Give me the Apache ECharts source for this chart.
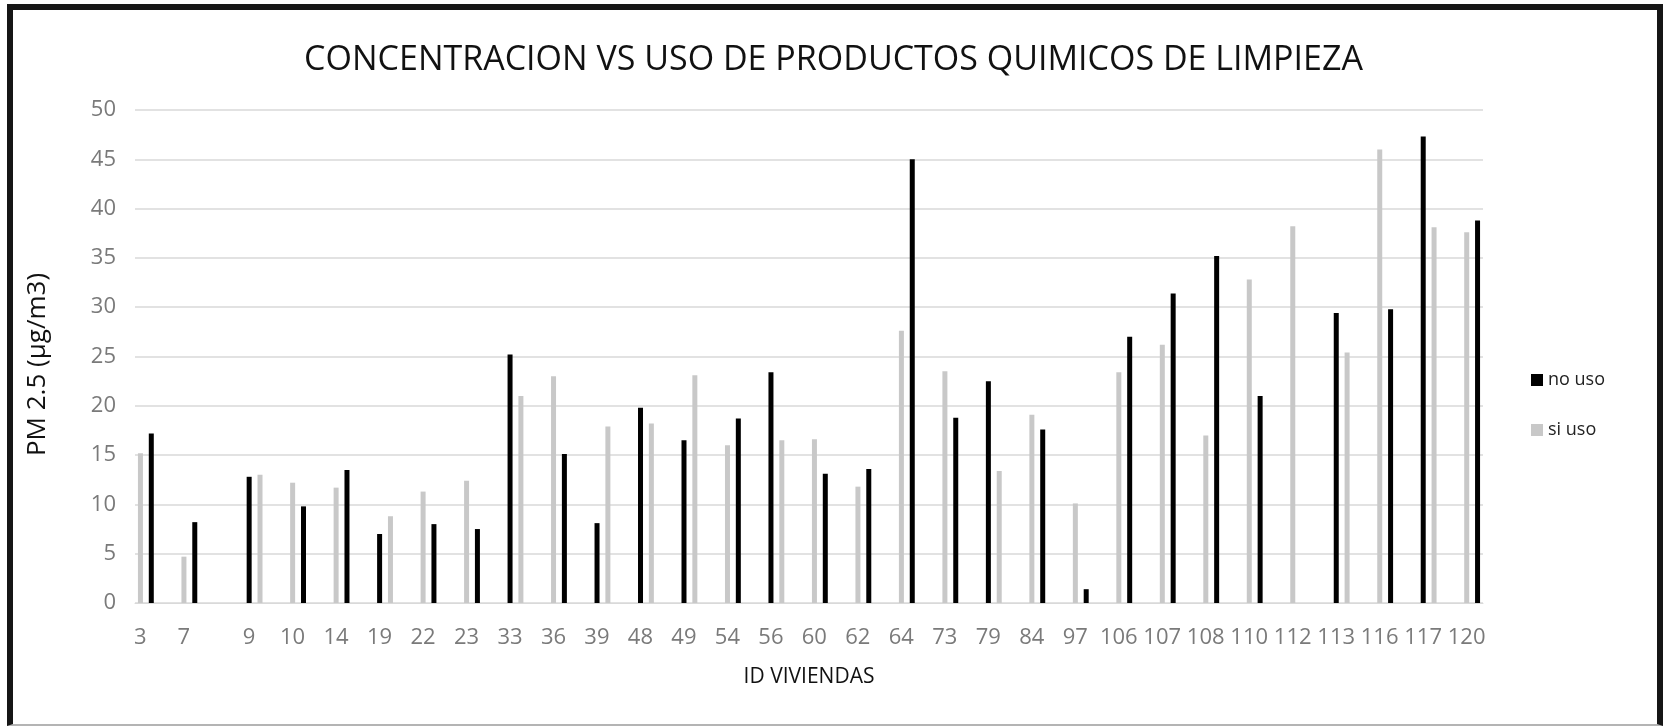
<!DOCTYPE html>
<html>
<head>
<meta charset="utf-8">
<title>Concentracion vs uso de productos quimicos</title>
<script src="https://cdn.jsdelivr.net/npm/echarts@6/dist/echarts.min.js"></script>
<style>
  html, body { margin: 0; padding: 0; background: #fff; }
  #chart { width: 1667px; height: 726px; }
  /* marco negro alrededor de la imagen */
  #marco {
    position: absolute; left: 7px; top: 4px; width: 1644px; height: 714px;
    border-style: solid; border-color: #161616; border-width: 6px 6px 2px 6px;
    border-bottom-color: #b4b4b4; pointer-events: none;
  }
</style>
</head>
<body>
<div id="chart"></div>
<div id="marco"></div>
<script>
// eje X: ID de vivienda ('' = hueco sin etiqueta)
const idViviendas = ['3', '', '7', '', '', '9', '', '10', '', '14', '', '19', '', '22', '', '23', '',
  '33', '', '36', '', '39', '', '48', '', '49', '', '54', '', '56', '', '60', '', '62', '', '64', '',
  '73', '', '79', '', '84', '', '97', '', '106', '', '107', '', '108', '', '110', '', '112', '',
  '113', '', '116', '', '117', '', '120'];

// valores PM 2.5 por vivienda (mismo orden que las etiquetas no vacias)
const noUso = [17.2, 8.2, 12.8, 9.8, 13.5, 7.0, 8.0, 7.5, 25.2, 15.1, 8.1, 19.8, 16.5, 18.7, 23.4,
  13.1, 13.6, 45.0, 18.8, 22.5, 17.6, 1.4, 27.0, 31.4, 35.2, 21.0, null, 29.4, 29.8, 47.3, 38.8];
const siUso = [15.2, 4.7, 13.0, 12.2, 11.7, 8.8, 11.3, 12.4, 21.0, 23.0, 17.9, 18.2, 23.1, 16.0, 16.5,
  16.6, 11.8, 27.6, 23.5, 13.4, 19.1, 10.1, 23.4, 26.2, 17.0, 32.8, 38.2, 25.4, 46.0, 38.1, 37.6];
// que barra va primero (a la izquierda) en cada vivienda
const primero = ['si', 'si', 'no', 'si', 'si', 'no', 'si', 'si', 'no', 'si', 'no', 'no', 'no', 'si', 'no',
  'si', 'si', 'si', 'si', 'no', 'si', 'si', 'si', 'si', 'si', 'si', 'si', 'no', 'si', 'no', 'si'];

const yTicks = { min: 0, max: 50, interval: 5 };

// armar las series izquierda / derecha
let noIzq = [], siIzq = [], noDer = [], siDer = [];
let k = 0;
idViviendas.forEach(function (id) {
  if (id === '') {
    noIzq.push(null); siIzq.push(null); noDer.push(null); siDer.push(null);
    return;
  }
  if (primero[k] === 'no') {
    noIzq.push(noUso[k]); siIzq.push(null); noDer.push(null); siDer.push(siUso[k]);
  } else {
    noIzq.push(null); siIzq.push(siUso[k]); noDer.push(noUso[k]); siDer.push(null);
  }
  k++;
});

const fuente = 'Open Sans';
const negro = '#000000';
const gris = '#c8c8c8';

let myChart = echarts.init(document.getElementById('chart'));
myChart.setOption({
  animation: false,
  backgroundColor: 'transparent',
  title: {
    text: 'CONCENTRACION VS USO DE PRODUCTOS QUIMICOS DE LIMPIEZA',
    left: 'center',
    top: 38,
    textStyle: { fontFamily: fuente, fontSize: 34, fontWeight: 'normal', color: '#111' }
  },
  legend: {
    orient: 'vertical',
    left: 1526,
    top: 366,
    icon: 'rect',
    itemWidth: 12,
    itemHeight: 12,
    itemGap: 32,
    data: ['no uso', 'si uso'],
    textStyle: { fontFamily: fuente, fontSize: 18, color: '#222' }
  },
  grid: { left: 135, right: 184, top: 110, bottom: 123 },
  xAxis: {
    type: 'category',
    data: idViviendas,
    name: 'ID VIVIENDAS',
    nameLocation: 'middle',
    nameGap: 64,
    nameTextStyle: { fontFamily: fuente, fontSize: 21, color: '#111' },
    axisLine: { lineStyle: { color: '#d9d9d9', width: 1 } },
    axisTick: { show: false },
    axisLabel: {
      interval: 0,
      margin: 24,
      padding: [0, 11, 0, 0],
      fontFamily: fuente, fontSize: 22, color: '#7a7a7a'
    }
  },
  yAxis: {
    type: 'value',
    min: yTicks.min,
    max: yTicks.max,
    interval: yTicks.interval,
    name: 'PM 2.5 (µg/m3)',
    nameLocation: 'middle',
    nameGap: 84,
    nameTextStyle: { fontFamily: fuente, fontSize: 26, color: '#111', padding: [0, 16, 0, 0] },
    axisLabel: { margin: 19, fontFamily: fuente, fontSize: 22, color: '#7a7a7a' },
    splitLine: { lineStyle: { color: '#d9d9d9', width: 1.5 } }
  },
  series: [
    { name: 'no uso', type: 'bar', stack: 'izq', barWidth: 5, barGap: '117%', itemStyle: { color: negro }, data: noIzq },
    { name: 'si uso', type: 'bar', stack: 'izq', barWidth: 5, barGap: '117%', itemStyle: { color: gris }, data: siIzq },
    { name: 'no uso', type: 'bar', stack: 'der', barWidth: 5, barGap: '117%', itemStyle: { color: negro }, data: noDer },
    { name: 'si uso', type: 'bar', stack: 'der', barWidth: 5, barGap: '117%', itemStyle: { color: gris }, data: siDer }
  ]
});
</script>
</body>
</html>
